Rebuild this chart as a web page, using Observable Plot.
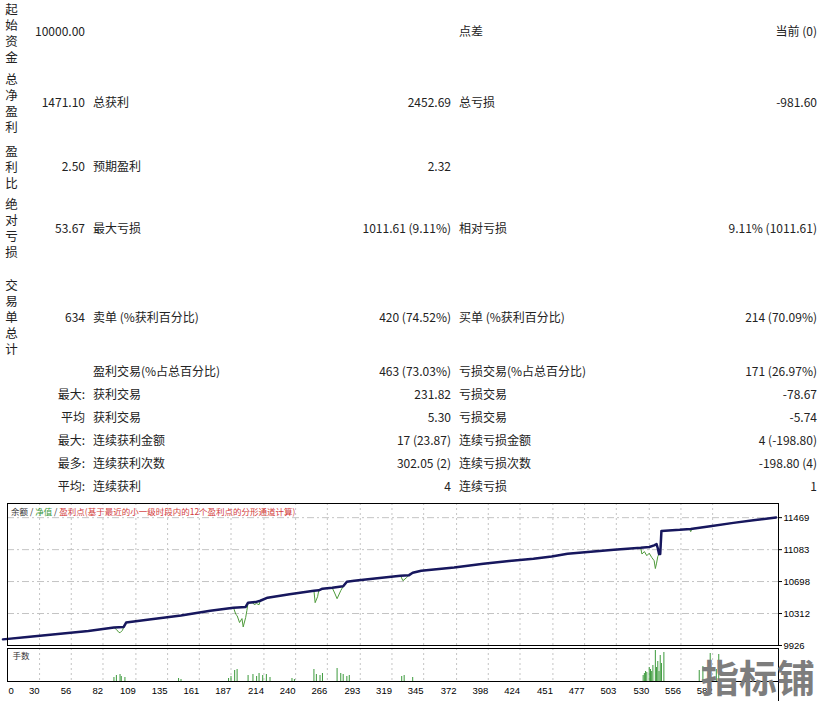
<!DOCTYPE html>
<html><head><meta charset="utf-8">
<script src="https://cdn.jsdelivr.net/npm/d3@7"></script>
<script src="https://cdn.jsdelivr.net/npm/@observablehq/plot@0.6"></script>
<style>
body{margin:0;background:#fff;width:826px;height:701px;overflow:hidden;position:relative;font-family:"Noto Sans CJK SC","Noto Sans",sans-serif;color:#222;}
.t{position:absolute;font-size:12px;line-height:16px;white-space:nowrap;}
.v{position:absolute;left:4px;width:15px;font-size:12.5px;line-height:16px;text-align:center;white-space:normal;word-break:break-all;}
#eq,#vol{position:absolute;left:0}
#eq{top:500px}
#vol{top:645px}
svg{overflow:visible}
#legend{position:absolute;left:11px;top:505px;font-size:8.5px;line-height:12px;white-space:nowrap;color:#333}
#rline{position:absolute;left:778px;top:681px;width:1px;height:20px;background:#000}
#wm{position:absolute;left:701px;top:656px;font-size:38px;line-height:40px;font-weight:700;color:#7d7d7d;white-space:nowrap;letter-spacing:0px}
</style></head><body>
<div id="tbl"></div>
<div id="eq"></div>
<div id="vol"></div>
<div id="legend"><span style="color:#333">余额</span> / <span style="color:#3d9a3d">净值</span> / <span style="color:#d23c3c">盈利点(基于最近的小一级时段内的12个盈利点的分形通道计算)</span></div>
<div id="rline"></div>
<div id="wm">指标铺</div>
<script>
// ---- report table texts ----
const sideLabels = ["起始资金","总净盈利","盈利比","绝对亏损","交易单总计"];
const col1 = ["10000.00","1471.10","2.50","53.67","634","","最大:","平均","最大:","最多:","平均:"];
const col2 = ["","总获利","预期盈利","最大亏损","卖单 (%获利百分比)","盈利交易(%占总百分比)","获利交易","获利交易","连续获利金额","连续获利次数","连续获利"];
const col3 = ["","2452.69","2.32","1011.61 (9.11%)","420 (74.52%)","463 (73.03%)","231.82","5.30","17 (23.87)","302.05 (2)","4"];
const col4 = ["点差","总亏损","","相对亏损","买单 (%获利百分比)","亏损交易(%占总百分比)","亏损交易","亏损交易","连续亏损金额","连续亏损次数","连续亏损"];
const col5 = ["当前 (0)","-981.60","","9.11% (1011.61)","214 (70.09%)","171 (26.97%)","-78.67","-5.74","4 (-198.80)","-198.80 (4)","1"];

// ---- chart data ----
const balanceTrade = [0,20,45,70,91,99,101,120,146,170,189,199,201,207,211,217,235,255,259,262,270,279,282,288,305,326,333,336,343,370,394,415,435,450,463,482,501,523,530,534,536,537,538,539,540,555,564,580,599,617,634];
const balanceValue = [10000,10030,10065,10100,10143,10150,10203,10240,10287,10345,10383,10392,10443,10450,10466,10503,10545,10588,10592,10612,10622,10640,10696,10708,10735,10768,10775,10804,10828,10868,10912,10945,10973,11000,11033,11058,11081,11105,11115,11135,11150,11100,11030,11030,11309,11322,11333,11365,11406,11440,11471.10];

const equityTrade = [0,20,45,70,91,93,95,96,98,99,101,120,146,170,189,191,192,194,196,197,199,200,201,205,206,208,210,211,217,235,255,256,258,259,262,270,272,274,277,279,282,288,305,326,328,331,333,336,343,370,394,415,435,450,463,482,501,523,524,526,528,530,532,534,535,536,537,538,539,540,555,563,564,565,580,599,617,634];
const equityValue = [10000,10030,10065,10100,10143,10120,10085,10080,10110,10150,10203,10240,10287,10345,10383,10300,10287,10203,10251,10150,10263,10347,10443,10440,10420,10432,10418,10466,10503,10545,10588,10443,10515,10592,10612,10622,10560,10491,10588,10640,10696,10708,10735,10768,10708,10745,10775,10804,10828,10868,10912,10945,10973,11000,11033,11058,11081,11105,11030,11060,11010,11040,10990,10950,10855,10920,11000,11030,11030,11309,11322,11333,11300,11336,11365,11406,11440,11471.10];

const volTrade = [91,93,96,97,100,144,146,185,187,190,192,201,205,208,210,213,216,219,237,239,255,257,260,262,274,277,279,282,284,327,329,336,525,526,527,528,530,531,532,533,535,536,537,538,539,540,542,571,574,580,585,587];
const volLots = [0.04,0.06,0.07,0.05,0.04,0.03,0.02,0.03,0.05,0.11,0.12,0.06,0.07,0.05,0.08,0.06,0.07,0.04,0.03,0.02,0.12,0.07,0.06,0.08,0.13,0.08,0.07,0.05,0.06,0.05,0.06,0.04,0.06,0.08,0.10,0.09,0.14,0.12,0.10,0.16,0.31,0.14,0.20,0.10,0.26,0.18,0.29,0.11,0.15,0.28,0.12,0.27];

const xTicks = [30,56,82,109,135,161,187,214,240,266,293,319,345,372,398,424,451,477,503,530,556,582];
const yTicks = [9926,10312,10698,11083,11469];

// ---- table layout ----
const rowY = [31,102,166,228,317,371,394,417,440,463,486];
const sideY = [33,103,167,228,317];
const tbl = document.getElementById("tbl");
function cell(txt, y, left, right){
  if(!txt) return;
  const d = document.createElement("div");
  d.className = "t";
  d.textContent = txt;
  d.style.top = (y-8)+"px";
  if(right!=null){ d.style.right = (826-right)+"px"; } else { d.style.left = left+"px"; }
  tbl.appendChild(d);
}
rowY.forEach((y,i)=>{
  cell(col1[i], y, null, 85);
  cell(col2[i], y, 93, null);
  cell(col3[i], y, null, 451);
  cell(col4[i], y, 459, null);
  cell(col5[i], y, null, 817);
});
sideLabels.forEach((s,i)=>{
  const d = document.createElement("div");
  d.className = "v";
  d.textContent = s;
  d.style.top = Math.max(1, sideY[i] - 8*s.length)+"px";
  tbl.appendChild(d);
});

// ---- charts ----
const balance = balanceTrade.map((t,i)=>({trade:t, value:balanceValue[i]}));
const equity = equityTrade.map((t,i)=>({trade:t, value:equityValue[i]}));
const vols = volTrade.map((t,i)=>({trade:t, lots:volLots[i]}));

const xDomain = [3.7, 636];
const fontStyle = {fontFamily:"'Liberation Sans', sans-serif", fontSize:"9.5px", color:"#000", background:"transparent"};
const gridV = {stroke:"#c4c4c4", strokeOpacity:1, strokeDasharray:"2,3"};

const eqPlot = Plot.plot({
  width: 826, height: 148,
  marginLeft: 7, marginRight: 48, marginTop: 3, marginBottom: 3,
  style: fontStyle,
  x: {domain: xDomain, axis: null},
  y: {domain: [9926, 11640], axis: null},
  marks: [
    Plot.gridX(xTicks, gridV),
    Plot.gridY(yTicks, {stroke:"#c4c4c4", strokeOpacity:1, strokeDasharray:"7,3,2,3"}),
    Plot.line(equity, {x:"trade", y:"value", stroke:"#4e9a3a", strokeWidth:1}),
    Plot.line(balance, {x:"trade", y:"value", stroke:"#17175e", strokeWidth:2.5}),
    Plot.frame({stroke:"#000"}),
    Plot.axisY(yTicks, {anchor:"right", label:null, tickSize:3, tickPadding:2, textAnchor:"start", tickFormat: d3.format("d"), stroke:"#000"})
  ]
});
document.getElementById("eq").appendChild(eqPlot);

const volPlot = Plot.plot({
  width: 826, height: 56,
  marginLeft: 7, marginRight: 48, marginTop: 3, marginBottom: 20,
  style: fontStyle,
  x: {domain: xDomain, axis: null},
  y: {domain: [0, 0.33], axis: null},
  marks: [
    Plot.gridX(xTicks, gridV),
    Plot.ruleX(vols, {x:"trade", y1:0, y2:"lots", stroke:"#3c9a3c", strokeWidth:1}),
    Plot.frame({stroke:"#000"}),
    Plot.text(xTicks, {x: d=>d, text: d=>String(d), frameAnchor:"bottom", lineAnchor:"middle", dy:9, textAnchor:"end", fill:"#000"}),
    Plot.text(["0"], {frameAnchor:"bottom-left", lineAnchor:"middle", dx:1, dy:9, textAnchor:"start", fill:"#000"}),
    Plot.text(["手数"], {frameAnchor:"top-left", lineAnchor:"middle", dx:5, dy:8, textAnchor:"start", fill:"#333", fontSize:8.5, fontFamily:"'Noto Sans CJK SC', sans-serif"})
  ]
});
document.getElementById("vol").appendChild(volPlot);
</script>
</body></html>
